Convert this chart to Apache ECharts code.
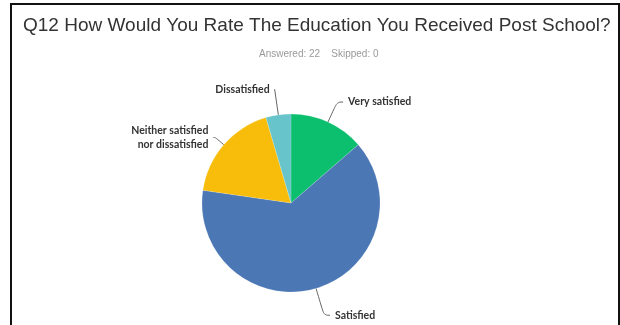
<!DOCTYPE html>
<html>
<head>
<meta charset="utf-8">
<script src="https://cdn.jsdelivr.net/npm/echarts@6/dist/echarts.min.js"></script>
<style>
  html, body { margin: 0; padding: 0; background: #fff; }
  #chart { width: 620px; height: 325px; }
</style>
</head>
<body>
<div id="chart"></div>
<script>
// Survey responses for Q12 (22 answered, 0 skipped)
const categories = ['Very satisfied', 'Satisfied', 'Neither satisfied\nnor dissatisfied', 'Dissatisfied'];
const responses = [3, 14, 4, 1];
const sliceColors = ['#0bbf6e', '#4b78b5', '#f8bd0b', '#68c4cb'];
const answered = 22;
const skipped = 0;

// leader line lengths per slice (radial part, horizontal part)
const leaderLengths = [[22, 6], [28, 6], [11, 2], [26, 0]];

const chart = echarts.init(document.getElementById('chart'));

const pieData = categories.map((name, i) => ({
  name: name,
  value: responses[i],
  itemStyle: { color: sliceColors[i] },
  labelLine: { length: leaderLengths[i][0], length2: leaderLengths[i][1] }
}));

chart.setOption({
  animation: false,
  title: [
    {
      text: 'Q12 How Would You Rate The Education You Received Post School?',
      left: 18,
      top: 11,
      textStyle: {
        fontFamily: 'Liberation Sans, Arial, sans-serif',
        fontSize: 19,
        fontWeight: 'normal',
        color: '#333'
      }
    },
    {
      text: 'Answered: ' + answered + '    Skipped: ' + skipped,
      left: 254,
      top: 44,
      textStyle: {
        fontFamily: 'Liberation Sans, Arial, sans-serif',
        fontSize: 10,
        fontWeight: 'normal',
        color: '#9a9a9a'
      }
    }
  ],
  graphic: [
    {
      type: 'rect',
      shape: { x: 11, y: 4, width: 608, height: 340 },
      style: { fill: 'none', stroke: '#111', lineWidth: 2 },
      silent: true
    }
  ],
  series: [
    {
      type: 'pie',
      center: [291, 203],
      radius: 89,
      startAngle: 90,
      clockwise: true,
      data: pieData,
      label: {
        show: true,
        position: 'outside',
        fontFamily: 'Lato, sans-serif',
        fontWeight: 'bold',
        fontSize: 10.5,
        color: '#333',
        lineHeight: 14
      },
      labelLine: {
        show: true,
        smooth: 0.4,
        lineStyle: { color: '#666', width: 1 }
      },
      itemStyle: { borderColor: 'rgba(255,255,255,0.3)', borderWidth: 0.5 },
      emphasis: { disabled: true }
    }
  ]
});
</script>
</body>
</html>
